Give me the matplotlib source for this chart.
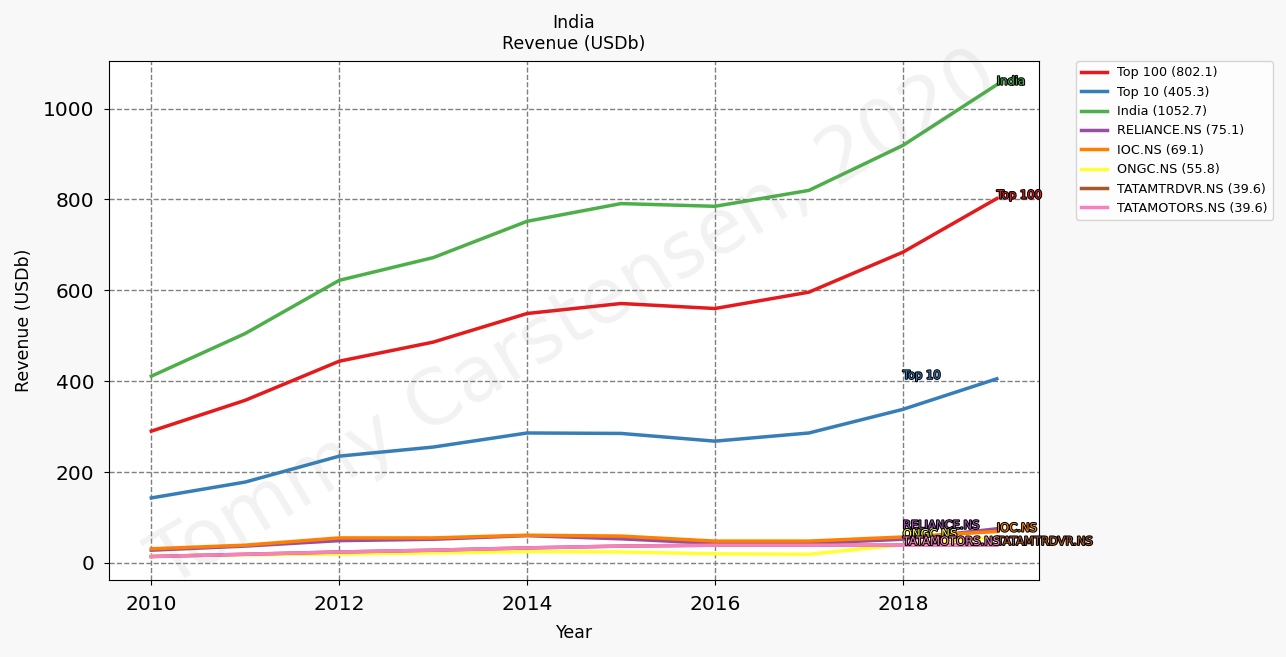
import matplotlib.pyplot as plt
import matplotlib.patheffects as pe

years = [2010, 2011, 2012, 2013, 2014, 2015, 2016, 2017, 2018, 2019]

names = ["Top 100", "Top 10", "India", "RELIANCE.NS", "IOC.NS", "ONGC.NS",
         "TATAMTRDVR.NS", "TATAMOTORS.NS"]

top100 = [290, 358, 444, 486, 549, 571, 560, 596, 684, 802.1]
top10 = [143, 178, 235, 255, 286, 285, 268, 286, 338, 405.3]
india = [411, 505, 622, 672, 752, 791, 785, 820, 919, 1052.7]
reliance = [28, 37, 49, 52, 60, 53, 43, 43, 52, 75.1]
ioc = [31, 39, 55, 55, 61, 59, 48, 48, 57, 69.1]
ongc = [15, 18, 19, 22, 25, 24, 20, 19, 40, 55.8]
tatamtrdvr = [14, 19, 24, 28, 33, 37, 39, 39, 39, 39.6]
tatamotors = [14, 19, 24, 28, 33, 37, 39, 39, 39, 39.6]

series = [top100, top10, india, reliance, ioc, ongc, tatamtrdvr, tatamotors]
colors = ["#e41a1c", "#377eb8", "#4daf4a", "#984ea3", "#ff7f00", "#ffff33",
          "#a65628", "#f781bf"]

fig = plt.figure(figsize=(12.86, 6.57), dpi=100, facecolor="#f8f8f8")
ax = fig.add_axes([0.0848, 0.117, 0.7232, 0.79])

for i, (name, vals, c) in enumerate(zip(names, series, colors)):
    ax.plot(years, vals, color=c, lw=2.5, label="%s (%.1f)" % (name, vals[-1]))
    # labels alternate between the last two years to reduce overlap
    xl = years[-1] if i % 2 == 0 else years[-2]
    ax.text(xl, vals[-1], name, color=c, fontsize=8.3, ha="left", va="baseline",
            path_effects=[pe.withStroke(linewidth=1.5, foreground="black")])

ax.grid(True, linestyle="--", color="gray", lw=1)
ax.set_xticks([2010, 2012, 2014, 2016, 2018])
ax.tick_params(labelsize=14.5, pad=7)
ax.set_xlabel("Year", fontsize=12.5, labelpad=7.5)
ax.set_ylabel("Revenue (USDb)", fontsize=12.5, labelpad=7.5)
ax.set_title("India\nRevenue (USDb)", fontsize=12.5, pad=9)

ax.text(0.5, 0.5, "Tommy Carstensen, 2020", transform=ax.transAxes,
        fontsize=55, color="gray", alpha=0.1, rotation=31,
        ha="center", va="center")

ax.legend(loc="upper left", bbox_to_anchor=(1.04, 1.0), fontsize=9.2,
          borderaxespad=0.)

plt.savefig("out.png", facecolor=fig.get_facecolor())
